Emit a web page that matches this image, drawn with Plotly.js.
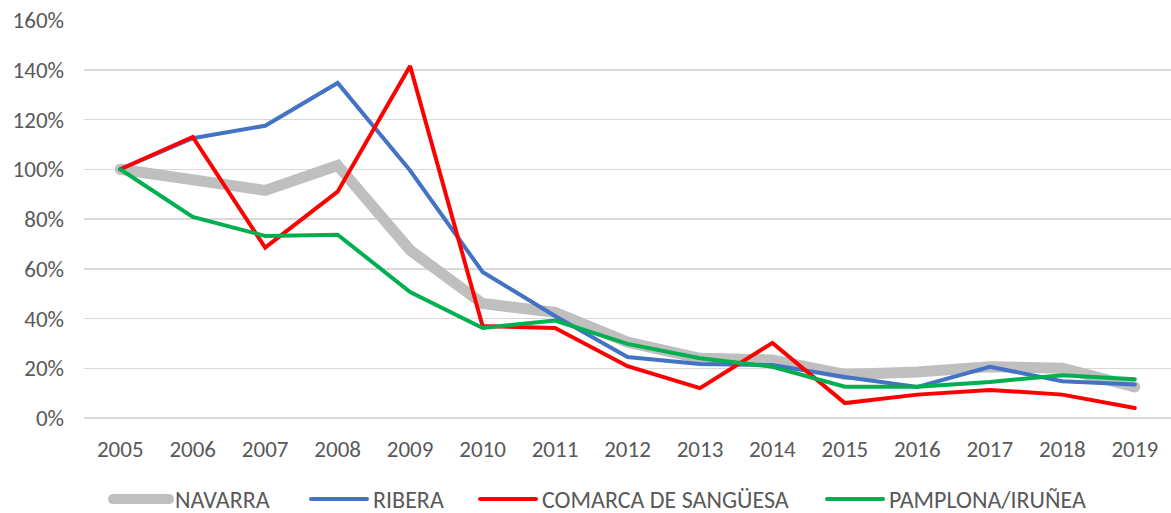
<!DOCTYPE html>
<html><head><meta charset="utf-8">
<script src="https://cdn.plot.ly/plotly-3.0.1.min.js"></script>
<style>html,body{margin:0;padding:0;background:#fff}#c{width:1171px;height:513px}</style>
</head><body><div id="c"></div>
<script>
const years = ['2005','2006','2007','2008','2009','2010','2011','2012','2013','2014','2015','2016','2017','2018','2019'];
const navarra = [100, 96, 91.5, 101.5, 67.5, 46, 42.5, 30.5, 24, 23.3, 17.5, 18.5, 20.6, 20, 12.5];
const ribera = [100, 112.5, 117.5, 134.7, 99.5, 58.7, 41, 24.5, 21.7, 21.3, 16.5, 12.5, 20.6, 14.8, 13.5];
const comarca = [100, 113, 68.5, 91, 141.5, 37, 36.2, 20.8, 12, 30.2, 6, 9.4, 11.3, 9.4, 4];
const pamplona = [100, 80.8, 73.2, 73.7, 50.6, 36.2, 39.2, 29.8, 24, 20.6, 12.6, 12.6, 14.5, 17.2, 15.6];
const names = ['NAVARRA','RIBERA','COMARCA DE SANGÜESA','PAMPLONA/IRUÑEA'];
const series = [navarra, ribera, comarca, pamplona];
const colors = ['#bfbfbf','#4472c4','#ff0000','#00b050'];
const widths = [11, 4, 4, 4];
const legendIds = ['legend','legend2','legend3','legend4'];
const legendX = [113, 311, 480, 827];
const traces = series.map((s,i)=>({
  x: years, y: s, name: names[i], type:'scatter', mode:'lines', legend: legendIds[i],
  line:{color:colors[i], width:widths[i], shape:'linear'}
}));
const font = "Calibri, Carlito, 'Liberation Sans', Arial, sans-serif";
const layout = {
  width:1171, height:513,
  margin:{l:84, r:0, t:20, b:95, autoexpand:false},
  paper_bgcolor:'#fff', plot_bgcolor:'#fff',
  showlegend:true,
  xaxis:{type:'category', range:[-0.5,14.5], showgrid:false, zeroline:false,
    showline:false, ticks:'', ticklabelstandoff:15, tickfont:{family:font, size:23, color:'#595959'}, fixedrange:true},
  yaxis:{range:[0,160], dtick:20, ticksuffix:'%', showgrid:true, gridcolor:'#d9d9d9', gridwidth:1.5,
    zeroline:true, zerolinecolor:'#d9d9d9', zerolinewidth:1.5, showline:false, ticks:'', ticklabelstandoff:19,
    tickfont:{family:font, size:23, color:'#595959'}, fixedrange:true}
};
legendIds.forEach((id,i)=>{
  layout[id] = {xref:'container', yref:'container', x:(legendX[i]-6)/1171, xanchor:'left',
    y:0, yanchor:'bottom', orientation:'h', bgcolor:'rgba(0,0,0,0)',
    font:{family:font, size:24, color:'#595959'}, itemwidth:58};
});
Plotly.newPlot('c', traces, layout, {displayModeBar:false, staticPlot:true}).then(gd=>{
  gd.querySelectorAll('.legendlines path').forEach(p=>{
    p.setAttribute('d','M6,0h56');
    p.style.strokeLinecap='round';
  });
  gd.querySelectorAll('.scatterlayer .js-line').forEach(p=>{p.style.strokeLinecap='round';});
  gd.querySelectorAll('g.infolayer > g[class^="legend"]').forEach(g=>{
    const t = g.getAttribute('transform') || '';
    g.setAttribute('transform', t + ' translate(0,9)');
  });
});
</script></body></html>
